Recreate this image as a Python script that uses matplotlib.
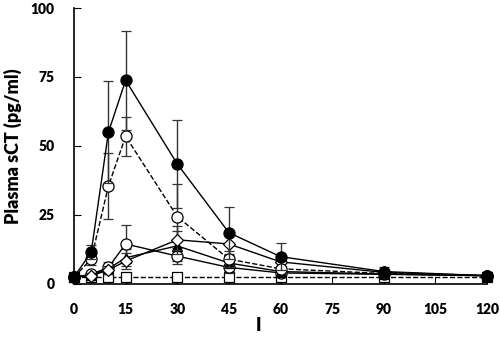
import numpy as np
import matplotlib
matplotlib.use("Agg")
import matplotlib.pyplot as plt

plt.rcParams['font.family'] = ['Lato', 'DejaVu Sans']
plt.rcParams['font.weight'] = 'heavy'

# time points (min)
t = [0, 5, 10, 15, 30, 45, 60, 90, 120]

# plasma sCT (pg/ml), mean and SD per group
filled_c = [2.5, 11.5, 55.0, 73.8, 43.5, 18.6, 9.9, 4.5, 3.0]
filled_c_sd = [0, 2.5, 18.5, 18.0, 16.0, 9.4, 4.9, 1.5, 0.5]

open_dash = [2.5, 9.0, 35.5, 53.5, 24.4, 9.0, 5.5, 3.8, 3.0]
open_dash_sd = [0, 2.0, 12.0, 7.0, 12.0, 3.0, 2.0, 1.0, 0.5]

open_c = [2.5, 3.5, 6.0, 14.5, 10.1, 6.0, 4.0, 3.5, 3.0]
open_c_sd = [0, 1.0, 2.0, 7.0, 3.0, 2.0, 1.0, 0.8, 0.5]

diamond = [2.5, 3.0, 5.0, 8.3, 16.0, 14.5, 8.0, 4.2, 3.0]
diamond_sd = [0, 1.0, 1.5, 3.0, 5.0, 3.5, 2.0, 1.0, 0.5]

triangle = [2.5, 3.2, 5.5, 9.5, 13.8, 7.6, 4.5, 3.6, 3.0]
triangle_sd = [0, 1.0, 1.5, 3.0, 5.5, 3.0, 1.5, 0.8, 0.5]

square = [2.5, 2.5, 2.5, 2.5, 2.5, 2.5, 2.5, 2.5, 2.5]
square_sd = [0, 0.5, 0.5, 0.5, 0.5, 0.5, 0.5, 0.5, 0.5]

fig = plt.figure(figsize=(5, 3.48), dpi=100)
ax = fig.add_axes([0.148, 0.184, 0.826, 0.793])

ebkw = dict(ecolor='0.2', elinewidth=1.0, capsize=3.5, capthick=1.0, clip_on=False)

ax.errorbar(t, square, yerr=square_sd, color='k', ls='--', lw=1, marker='s', ms=7,
            mfc='white', mec='k', mew=0.9, zorder=2, **ebkw)
ax.errorbar(t, open_c, yerr=open_c_sd, color='k', ls='-', lw=1, marker='o', ms=8,
            mfc='white', mec='k', mew=0.9, zorder=3, **ebkw)
ax.errorbar(t, triangle, yerr=triangle_sd, color='k', ls='-', lw=1, marker='^', ms=6.5,
            mfc='k', mec='k', mew=0.9, zorder=3, **ebkw)
ax.errorbar(t, diamond, yerr=diamond_sd, color='k', ls='-', lw=1, marker='D', ms=6,
            mfc='white', mec='k', mew=0.9, zorder=4, **ebkw)
ax.errorbar(t, open_dash, yerr=open_dash_sd, color='k', ls='--', lw=1, marker='o', ms=8,
            mfc='white', mec='k', mew=0.9, zorder=4, **ebkw)
ax.errorbar(t, filled_c, yerr=filled_c_sd, color='k', ls='-', lw=1, marker='o', ms=8,
            mfc='k', mec='k', mew=0.9, zorder=5, **ebkw)

ax.set_xlim(0, 120)
ax.set_ylim(0, 100)
ax.set_xticks(np.arange(0, 121, 15))
ax.set_yticks([0, 25, 50, 75, 100])
ax.spines['top'].set_visible(False)
ax.spines['right'].set_visible(False)
ax.spines['left'].set_linewidth(1.2)
ax.spines['bottom'].set_linewidth(1.2)
ax.tick_params(direction='in', length=5, width=0.8, labelsize=10, pad=14)
for lab in ax.get_xticklabels() + ax.get_yticklabels():
    lab.set_fontweight('heavy')

ax.set_ylabel('Plasma sCT (pg/ml)', fontsize=13, fontweight='heavy', labelpad=6)
ax.set_xlabel('I', fontsize=13, fontweight='heavy')
ax.xaxis.set_label_coords(0.446, -0.12)

fig.savefig('out.png', dpi=100)
